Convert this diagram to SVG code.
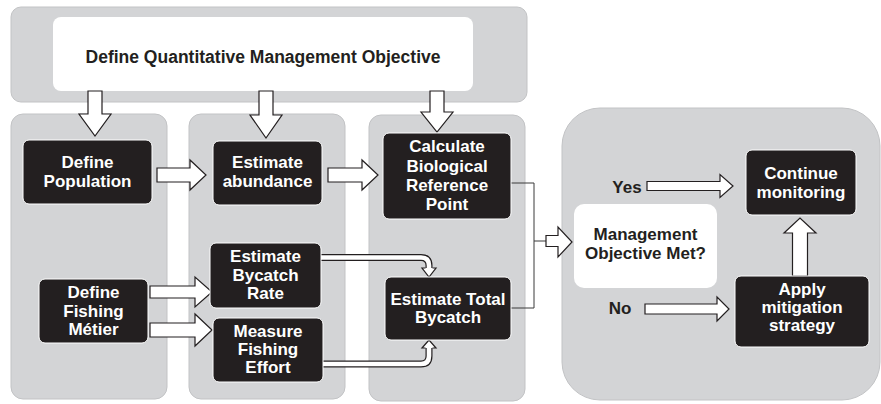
<svg xmlns="http://www.w3.org/2000/svg" width="881" height="404" viewBox="0 0 881 404">
<style>
.panel{fill:#d3d4d6;stroke:#c2c3c5;stroke-width:1}
.box{fill:#231f20;stroke:#ffffff;stroke-width:1}
.wbox{fill:#ffffff;stroke:none}
.lbl{font-family:"Liberation Sans",Arial,sans-serif;font-weight:bold;font-size:17px;fill:#ffffff;text-anchor:middle}
.dlbl{font-family:"Liberation Sans",Arial,sans-serif;font-weight:bold;font-size:17px;fill:#231f20;text-anchor:middle}
.blk{fill:#ffffff;stroke:#231f20;stroke-width:1.2;stroke-linejoin:miter}
.bandO{fill:none;stroke:#231f20;stroke-width:7}
.bandI{fill:none;stroke:#ffffff;stroke-width:4.6}
.thin{fill:none;stroke:#3a3a3a;stroke-width:1}
</style>
<g id="panels">
<rect class="panel" x="11" y="7" width="516" height="95" rx="10"/>
<rect class="panel" x="11" y="114" width="156" height="285" rx="12"/>
<rect class="panel" x="189" y="114" width="156" height="285" rx="12"/>
<rect class="panel" x="369" y="115" width="156" height="286" rx="12"/>
<rect class="panel" x="562" y="108" width="318" height="292" rx="38"/>
</g>
<g id="objective">
<rect class="wbox" x="53" y="17" width="420" height="74" rx="8"/>
<text class="dlbl" x="263" y="63" style="font-size:17.5px">Define Quantitative Management Objective</text>
</g>
<g id="connectors">
<path class="blk" d="M88,91 H102 V114 H111 L95,136 L79,114 H88 Z"/>
<path class="blk" d="M259,91 H273 V115 H282 L266,138 L250,115 H259 Z"/>
<path class="blk" d="M430,91 H444 V112 H453 L437,132 L421,112 H430 Z"/>
<path class="blk" d="M157,168 H190 V160 L206,175 L190,190 V182 H157 Z"/>
<path class="blk" d="M328,168 H362 V160 L378,175 L362,190 V182 H328 Z"/>
<path class="blk" d="M150,286 H195 V277 L212,292 L195,307 V298 H150 Z"/>
<path class="blk" d="M150,323 H195 V314 L212,330 L195,346 V337 H150 Z"/>
<path class="bandO" d="M321,257.5 H421 Q429,257.5 429,265.5 V268.5"/>
<path class="bandI" d="M320,257.5 H421 Q429,257.5 429,265.5 V269"/>
<path class="blk" d="M425.5,268 H422 L429,277 L436,268 H432.5"/>
<path class="bandO" d="M323,364 H421 Q429,364 429,356 V347.5"/>
<path class="bandI" d="M322,364 H421 Q429,364 429,356 V347"/>
<path class="blk" d="M425.5,348 H422 L429,340 L436,348 H432.5"/>
<polyline class="thin" points="511,183 534,183 534,308 511,308"/>
<line class="thin" x1="534" y1="241" x2="546" y2="241"/>
<path class="blk" d="M546,235.5 H558 V227 L572,242 L558,257 V246.5 H546 Z"/>
<path class="blk" d="M647,181.5 H720 V174.5 L733,186 L720,197.5 V190.5 H647 Z"/>
<path class="blk" d="M645,304 H717 V297 L729,309 L717,321 V314 H645 Z"/>
<path class="blk" d="M792.5,276 V233 H784 L800,218 L816,233 H807.5 V276 Z"/>
</g>
<g id="define-population">
<rect class="box" x="23" y="140" width="129" height="64" rx="6"/>
<text class="lbl" x="87.5" y="168">Define</text>
<text class="lbl" x="87.5" y="187">Population</text>
</g>
<g id="estimate-abundance">
<rect class="box" x="213" y="141" width="109" height="64" rx="6"/>
<text class="lbl" x="267.5" y="168">Estimate</text>
<text class="lbl" x="267.5" y="187">abundance</text>
</g>
<g id="calculate-brp">
<rect class="box" x="383" y="133" width="128" height="86" rx="6"/>
<text class="lbl" x="447" y="152">Calculate</text>
<text class="lbl" x="447" y="172">Biological</text>
<text class="lbl" x="447" y="191">Reference</text>
<text class="lbl" x="447" y="210">Point</text>
</g>
<g id="estimate-bycatch-rate">
<rect class="box" x="210" y="243" width="111" height="65" rx="6"/>
<text class="lbl" x="265.5" y="262">Estimate</text>
<text class="lbl" x="265.5" y="281">Bycatch</text>
<text class="lbl" x="265.5" y="299">Rate</text>
</g>
<g id="define-fishing-metier">
<rect class="box" x="39" y="279" width="109" height="64" rx="6"/>
<text class="lbl" x="93.5" y="298">Define</text>
<text class="lbl" x="93.5" y="317">Fishing</text>
<text class="lbl" x="93.5" y="335">Métier</text>
</g>
<g id="measure-fishing-effort">
<rect class="box" x="213" y="318" width="110" height="64" rx="6"/>
<text class="lbl" x="268" y="337">Measure</text>
<text class="lbl" x="268" y="355">Fishing</text>
<text class="lbl" x="268" y="373">Effort</text>
</g>
<g id="estimate-total-bycatch">
<rect class="box" x="385" y="277" width="126" height="63" rx="6"/>
<text class="lbl" x="448" y="305">Estimate Total</text>
<text class="lbl" x="448" y="323">Bycatch</text>
</g>
<g id="management-objective-met">
<rect class="wbox" x="574" y="204" width="143" height="84" rx="10"/>
<text class="dlbl" x="645.5" y="240">Management</text>
<text class="dlbl" x="645.5" y="259">Objective Met?</text>
</g>
<g id="continue-monitoring">
<rect class="box" x="746" y="150" width="110" height="65" rx="6"/>
<text class="lbl" x="801" y="179">Continue</text>
<text class="lbl" x="801" y="198">monitoring</text>
</g>
<g id="apply-mitigation">
<rect class="box" x="735" y="276" width="134" height="71" rx="6"/>
<text class="lbl" x="802" y="295">Apply</text>
<text class="lbl" x="802" y="313">mitigation</text>
<text class="lbl" x="802" y="331">strategy</text>
</g>
<g id="branch-labels">
<text class="dlbl" x="627" y="193">Yes</text>
<text class="dlbl" x="620" y="314">No</text>
</g>
</svg>
